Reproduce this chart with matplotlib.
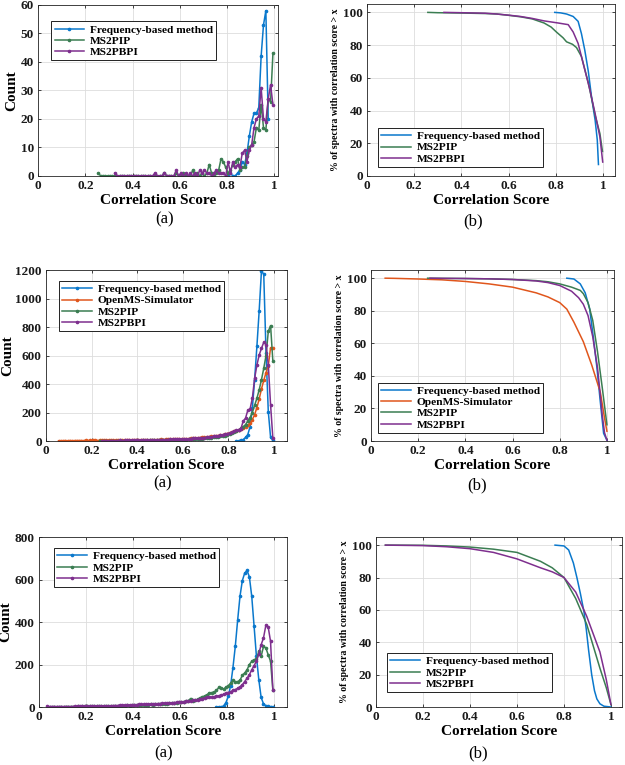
import numpy as np
import matplotlib
matplotlib.use("Agg")
import matplotlib.pyplot as plt

plt.rcParams['font.family'] = ['Liberation Serif', 'DejaVu Serif']
plt.rcParams['font.weight'] = 'bold'

C_FREQ = '#0a78cc'
C_OMS = '#e0561c'
C_PIP = '#3b7d52'
C_PBPI = '#7e2f8e'

LBL_FREQ = 'Frequency-based method'
LBL_OMS = 'OpenMS-Simulator'
LBL_PIP = 'MS2PIP'
LBL_PBPI = 'MS2PBPI'

# ---- row 1 histograms (bin width 0.01, first bin center given) ----
h1_freq_start = 0.795
h1_freq = [0, 0, 1, 0, 0, 1, 2, 5, 4, 8, 14, 19, 22, 22, 24, 42, 53, 58, 20]
h1_pip_start = 0.255
h1_pip = [1, 0, 0, 0, 0, 0, 0, 0, 0, 0,
          0, 0, 0, 0, 0, 0, 0, 0, 0, 0,
          0, 0, 0, 0, 0, 0, 0, 0, 1, 0,
          0, 0, 0, 1, 0, 0, 1, 0, 0, 0,
          2, 0, 1, 0, 1, 0, 1, 4, 1, 0,
          1, 2, 6, 5, 3, 1, 2, 4, 5, 6,
          2, 3, 3, 7, 10, 11, 12, 17, 16, 25,
          17, 16, 27, 26, 43]
h1_pbpi_start = 0.325
h1_pbpi = [1, 0, 0, 0, 0, 0, 0, 0, 0, 0,
           0, 0, 0, 0, 0, 0, 0, 1, 0, 0,
           0, 1, 0, 0, 0, 0, 2, 0, 1, 0,
           1, 0, 1, 0, 1, 0, 2, 1, 2, 1,
           1, 0, 1, 2, 1, 1, 1, 0, 5, 1,
           5, 3, 4, 3, 8, 9, 5, 9, 11, 17,
           20, 21, 31, 20, 19, 27, 32, 25]

# ---- row 2 histograms ----
h2_freq_start = 0.835
h2_freq = [0, 2, 5, 10, 25, 45, 100, 230, 430, 665, 915, 1195, 1170, 620, 205, 25, 5]
h2_oms_start = 0.055
h2_oms = [2, 2, 2, 3, 2, 3, 2, 3, 3, 3,
          3, 3, 4, 3, 4, 5, 4, 3, 5, 4,
          4, 5, 5, 4, 5, 6, 5, 6, 5, 6,
          6, 5, 7, 6, 7, 6, 8, 7, 8, 7,
          8, 9, 8, 10, 9, 11, 10, 12, 11, 12,
          12, 13, 14, 13, 15, 16, 15, 17, 18, 19,
          20, 22, 24, 25, 26, 28, 30, 32, 33, 35,
          38, 40, 44, 48, 52, 58, 62, 68, 70, 78,
          85, 92, 100, 110, 125, 150, 185, 235, 295, 365,
          425, 480, 530, 655, 655]
h2_pip_start = 0.235
h2_pip = [3, 1, 2, 1, 2, 2, 1, 2, 2, 2,
          2, 2, 3, 2, 3, 3, 2, 3, 3, 4,
          3, 4, 4, 4, 5, 4, 5, 5, 6, 5,
          6, 6, 7, 7, 8, 8, 9, 9, 10, 11,
          11, 12, 13, 14, 15, 16, 18, 20, 21, 23,
          25, 27, 30, 32, 35, 38, 42, 48, 55, 62,
          70, 78, 88, 100, 115, 140, 165, 200, 250, 300,
          360, 430, 510, 600, 770, 810, 560]
h2_pbpi_start = 0.245
h2_pbpi = [2, 2, 3, 2, 3, 3, 3, 3, 4, 3,
           4, 4, 4, 5, 4, 5, 5, 5, 6, 6,
           6, 7, 6, 7, 8, 8, 9, 9, 10, 10,
           11, 11, 12, 12, 13, 14, 14, 15, 16, 17,
           18, 19, 20, 21, 23, 24, 26, 28, 30, 32,
           33, 36, 40, 44, 48, 52, 56, 62, 68, 74,
           80, 87, 140, 160, 215, 225, 300, 440, 533, 604,
           650, 693, 677, 534, 253, 20]

# ---- row 3 histograms ----
h3_freq_start = 0.755
h3_freq = [0, 0, 0, 5, 20, 50, 100, 185, 285, 408, 521, 595, 630, 643, 612,
           521, 380, 238, 129, 45, 15, 6, 3, 2, 1]
h3_pip_start = 0.045
h3_pip = [1, 1, 2, 1, 1, 2, 1, 2, 2, 2,
          2, 2, 3, 2, 3, 4, 3, 3, 4, 3,
          4, 4, 5, 4, 5, 5, 6, 5, 6, 6,
          7, 6, 7, 8, 7, 8, 9, 8, 10, 9,
          10, 11, 10, 12, 11, 13, 12, 14, 13, 15,
          16, 17, 18, 19, 20, 22, 23, 25, 27, 29,
          40, 30, 33, 36, 42, 48, 52, 58, 66, 68,
          70, 78, 92, 89, 85, 92, 100, 112, 125, 118,
          120, 125, 150, 160, 175, 200, 215, 222, 225, 262,
          238, 285, 278, 246, 215, 78]
h3_pbpi_start = 0.035
h3_pbpi = [3, 2, 2, 2, 2, 2, 2, 2, 2, 2,
           2, 2, 3, 3, 3, 3, 5, 4, 3, 4,
           4, 4, 4, 5, 5, 5, 6, 6, 6, 7,
           7, 8, 8, 9, 9, 10, 10, 11, 11, 12,
           12, 12, 13, 13, 14, 14, 15, 16, 16, 17,
           18, 18, 19, 20, 21, 22, 23, 24, 25, 27,
           28, 29, 31, 33, 35, 37, 40, 42, 45, 48,
           45, 48, 50, 53, 56, 60, 64, 68, 72, 78,
           82, 88, 95, 105, 120, 135, 152, 175, 195, 215,
           250, 293, 325, 384, 376, 309, 78]

# ---- cumulative curves (% of spectra with score > x) ----
c1_freq_x = [0.795, 0.82, 0.845, 0.873, 0.894, 0.908, 0.922, 0.937, 0.951, 0.966, 0.975, 0.98]
c1_freq_y = [100, 99.7, 99, 97.5, 94.5, 87, 77, 64, 48, 34, 22, 7]
c1_pip_x = [0.258, 0.3, 0.4, 0.5, 0.55, 0.6, 0.65, 0.7, 0.75, 0.78, 0.802, 0.83, 0.845,
            0.87, 0.887, 0.908, 0.937, 0.966, 0.986, 0.997]
c1_pip_y = [100, 99.8, 99.6, 99.3, 99, 98.2, 97.3, 96, 93.5, 91, 88, 84.5, 82,
            80.5, 78.5, 73, 57, 37, 26, 15]
c1_pbpi_x = [0.326, 0.4, 0.5, 0.55, 0.6, 0.65, 0.7, 0.75, 0.81, 0.852, 0.873, 0.894,
             0.915, 0.944, 0.966, 0.986, 0.998]
c1_pbpi_y = [100, 99.8, 99.5, 99, 98.3, 97.5, 96.3, 94.8, 93.5, 92.5, 88, 81,
             69, 52.5, 38, 24, 8.5]

c2_freq_x = [0.83, 0.86, 0.887, 0.908, 0.927, 0.943, 0.958, 0.972, 0.986, 1.0]
c2_freq_y = [100, 99.5, 96.5, 91, 81, 63, 44.5, 24, 4.7, 0.5]
c2_oms_x = [0.06, 0.1, 0.2, 0.3, 0.4, 0.5, 0.6, 0.7, 0.75, 0.8, 0.83, 0.86, 0.9, 0.936,
            0.972, 0.99, 1.0]
c2_oms_y = [100, 99.9, 99.5, 99, 98, 96.5, 94.5, 91, 88.5, 85, 81, 73, 61, 46.5,
            30, 14, 6]
c2_pip_x = [0.24, 0.3, 0.4, 0.5, 0.6, 0.7, 0.75, 0.8, 0.85, 0.887, 0.9, 0.92, 0.94,
            0.96, 0.98, 1.0]
c2_pip_y = [100, 99.9, 99.8, 99.6, 99.2, 98.5, 97.8, 96.5, 94.5, 92.5, 90.5, 85, 74,
            55, 33, 10]
c2_pbpi_x = [0.25, 0.3, 0.4, 0.5, 0.6, 0.7, 0.75, 0.8, 0.85, 0.88, 0.9, 0.92, 0.94,
             0.96, 0.97, 0.98, 0.99, 1.0]
c2_pbpi_y = [100, 99.9, 99.8, 99.6, 99.2, 98.3, 97.3, 95.5, 92, 88, 84, 77, 64,
             45, 31, 16, 5, 0.5]

c3_freq_x = [0.762, 0.8, 0.82, 0.84, 0.855, 0.87, 0.885, 0.895, 0.905, 0.918, 0.93,
             0.94, 0.953, 0.97, 1.0]
c3_freq_y = [100, 99.5, 97, 89, 80, 70, 59, 48, 35, 20, 10, 5, 2, 0.5, 0]
c3_pip_x = [0.04, 0.2, 0.3, 0.4, 0.5, 0.6, 0.7, 0.75, 0.8, 0.85, 0.897, 0.953, 0.98, 1.0]
c3_pip_y = [100, 99.9, 99.5, 98.8, 97.5, 95.5, 90, 86, 80, 67, 51, 24, 12, 1.5]
c3_pbpi_x = [0.04, 0.2, 0.3, 0.4, 0.5, 0.6, 0.7, 0.75, 0.8, 0.85, 0.897, 0.953, 0.98, 1.0]
c3_pbpi_y = [100, 99.7, 99, 97.8, 95.5, 91.5, 86, 83.5, 80, 71, 56, 34, 17, 1.5]


def centers(start, counts):
    return start + 0.01 * np.arange(len(counts))


def style_axes(ax, xmax, ylim, yticks, ylabel, ylabel_size, ypad=2):
    ax.set_xlim(0, xmax)
    ax.set_ylim(*ylim)
    ax.set_xticks([0, 0.2, 0.4, 0.6, 0.8, 1])
    ax.set_xticklabels(['0', '0.2', '0.4', '0.6', '0.8', '1'])
    ax.set_yticks(yticks)
    ax.grid(True, color='#dddddd', linewidth=0.6)
    ax.set_axisbelow(True)
    ax.tick_params(direction='in', length=2.5, width=0.6, labelsize=9.5,
                   top=True, right=True, pad=3, colors='#262626')
    for lab in ax.get_xticklabels() + ax.get_yticklabels():
        lab.set_fontweight('bold')
        lab.set_color('#1a1a1a')
    for s in ax.spines.values():
        s.set_color('#262626')
        s.set_linewidth(0.6)
    ax.set_xlabel('Correlation Score', fontsize=11, fontweight='bold', labelpad=1)
    ax.set_ylabel(ylabel, fontsize=ylabel_size, fontweight='bold', labelpad=ypad)


def add_legend(ax, loc, anchor):
    leg = ax.legend(loc=loc, bbox_to_anchor=anchor, fancybox=False, framealpha=1,
                    edgecolor='#222222', fontsize=8.2, handlelength=2.6,
                    labelspacing=0.1, borderpad=0.3, handletextpad=0.5,
                    borderaxespad=0)
    leg.get_frame().set_linewidth(0.7)
    for t in leg.get_texts():
        t.set_fontweight('bold')


def plot_hist(ax, series):
    for start, counts, color, label in series:
        ax.plot(centers(start, counts), counts, color=color, lw=1.1, marker='.',
                ms=3.2, label=label)


def plot_cdf(ax, series):
    for xs, ys, color, label in series:
        ax.plot(xs, ys, color=color, lw=1.1, label=label)


fig = plt.figure(figsize=(6.25, 7.65), dpi=100)

# row 1
ax = fig.add_axes([0.061, 0.770, 0.384, 0.2235])
plot_hist(ax, [(h1_freq_start, h1_freq, C_FREQ, LBL_FREQ),
               (h1_pip_start, h1_pip, C_PIP, LBL_PIP),
               (h1_pbpi_start, h1_pbpi, C_PBPI, LBL_PBPI)])
style_axes(ax, 1.017, (0, 60), range(0, 61, 10), 'Count', 11)
add_legend(ax, 'upper left', (0.054, 0.905))

ax = fig.add_axes([0.587, 0.770, 0.397, 0.2245])
plot_cdf(ax, [(c1_freq_x, c1_freq_y, C_FREQ, LBL_FREQ),
              (c1_pip_x, c1_pip_y, C_PIP, LBL_PIP),
              (c1_pbpi_x, c1_pbpi_y, C_PBPI, LBL_PBPI)])
style_axes(ax, 1.05, (0, 105), range(0, 101, 20),
           '% of spectra with correlation score > x', 7)
add_legend(ax, 'lower left', (0.044, 0.052))

# row 2
ax = fig.add_axes([0.0736, 0.4235, 0.3856, 0.2235])
plot_hist(ax, [(h2_freq_start, h2_freq, C_FREQ, LBL_FREQ),
               (h2_oms_start, h2_oms, C_OMS, LBL_OMS),
               (h2_pip_start, h2_pip, C_PIP, LBL_PIP),
               (h2_pbpi_start, h2_pbpi, C_PBPI, LBL_PBPI)])
style_axes(ax, 1.057, (0, 1200), range(0, 1201, 200), 'Count', 11, ypad=0.5)
add_legend(ax, 'upper left', (0.054, 0.936))

ax = fig.add_axes([0.5936, 0.4235, 0.3888, 0.2235])
plot_cdf(ax, [(c2_freq_x, c2_freq_y, C_FREQ, LBL_FREQ),
              (c2_oms_x, c2_oms_y, C_OMS, LBL_OMS),
              (c2_pip_x, c2_pip_y, C_PIP, LBL_PIP),
              (c2_pbpi_x, c2_pbpi_y, C_PBPI, LBL_PBPI)])
style_axes(ax, 1.03, (0, 105), range(0, 101, 20),
           '% of spectra with correlation score > x', 7)
add_legend(ax, 'lower left', (0.029, 0.047))

# row 3
ax = fig.add_axes([0.0624, 0.0758, 0.3968, 0.2222])
plot_hist(ax, [(h3_freq_start, h3_freq, C_FREQ, LBL_FREQ),
               (h3_pip_start, h3_pip, C_PIP, LBL_PIP),
               (h3_pbpi_start, h3_pbpi, C_PBPI, LBL_PBPI)])
style_axes(ax, 1.055, (0, 800), range(0, 801, 200), 'Count', 11)
add_legend(ax, 'upper left', (0.06, 0.935))

ax = fig.add_axes([0.6016, 0.0758, 0.3936, 0.2222])
plot_cdf(ax, [(c3_freq_x, c3_freq_y, C_FREQ, LBL_FREQ),
              (c3_pip_x, c3_pip_y, C_PIP, LBL_PIP),
              (c3_pbpi_x, c3_pbpi_y, C_PBPI, LBL_PBPI)])
style_axes(ax, 1.047, (0, 105), range(0, 101, 20),
           '% of spectra with correlation score > x', 7)
add_legend(ax, 'lower left', (0.045, 0.088))

# panel captions
for xc, yc, txt in [(0.264, 0.713, '(a)'), (0.757, 0.711, '(b)'),
                    (0.260, 0.368, '(a)'), (0.763, 0.366, '(b)'),
                    (0.261, 0.015, '(a)'), (0.765, 0.015, '(b)')]:
    fig.text(xc, yc, txt, ha='center', va='center', fontsize=12, fontweight='normal')

fig.savefig('out.png', dpi=100)
